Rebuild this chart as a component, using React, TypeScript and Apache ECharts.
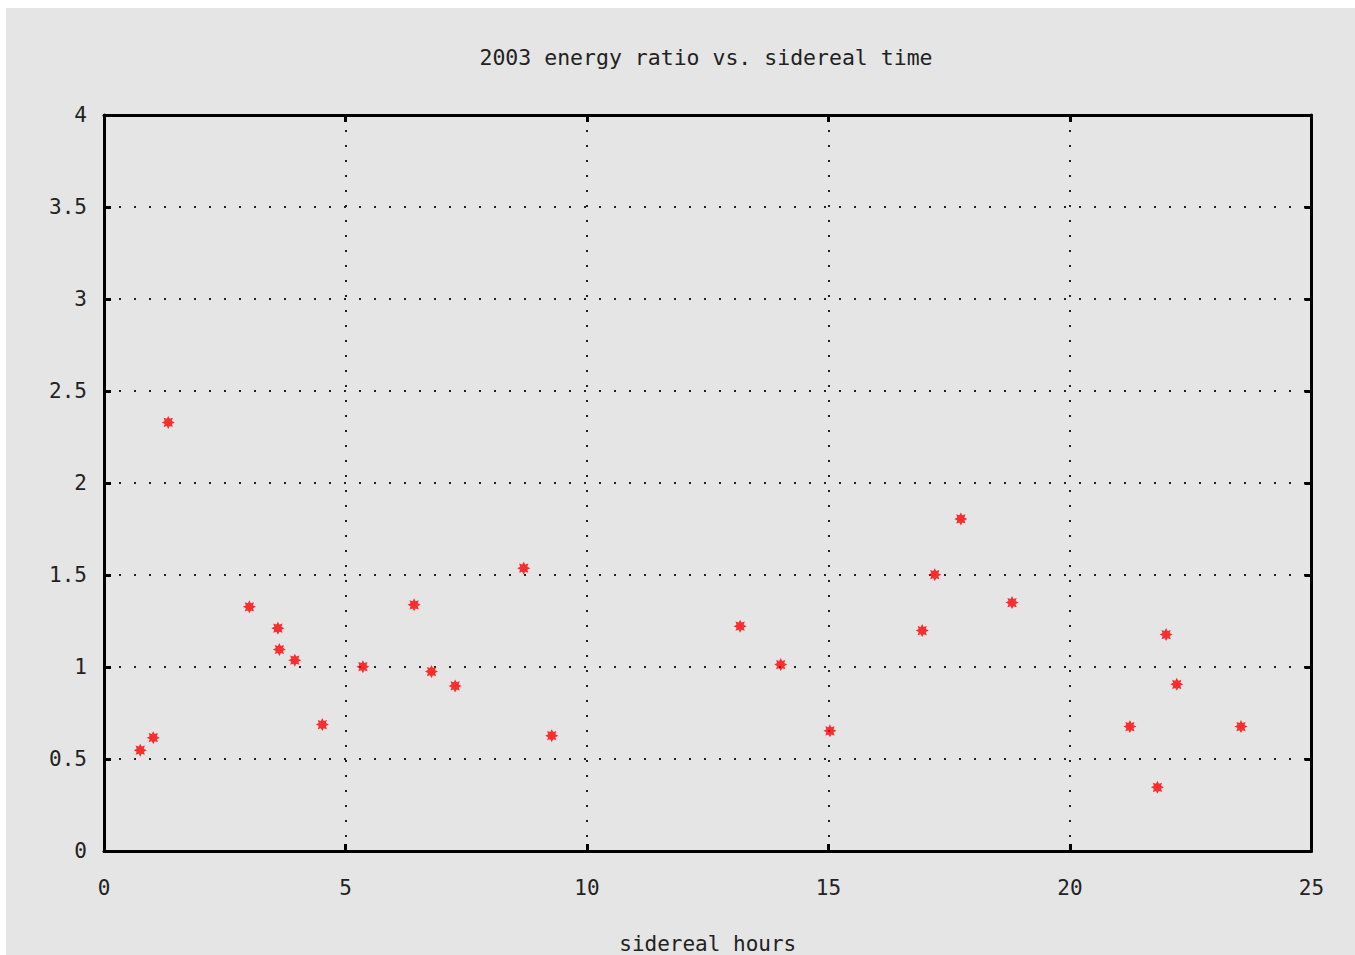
import React, { useEffect, useRef } from "react";
import * as echarts from "echarts";

// Sidereal hour of each run and its measured energy ratio
const siderealHours: number[] = [
  0.75, 1.02, 1.33, 3.01, 3.6, 3.63, 3.95, 4.52, 5.36, 6.42, 6.78, 7.27, 8.69,
  9.27, 13.17, 14.01, 15.03, 16.94, 17.2, 17.74, 18.8, 21.24, 21.81, 21.99,
  22.21, 23.54,
];
const energyRatio: number[] = [
  0.548, 0.616, 2.329, 1.327, 1.211, 1.095, 1.037, 0.687, 1.002, 1.338, 0.975,
  0.897, 1.537, 0.627, 1.222, 1.013, 0.653, 1.198, 1.502, 1.805, 1.35, 0.676,
  0.346, 1.176, 0.906, 0.676,
];

const xTicks = { min: 0, max: 25, interval: 5 };
const yTicks = { min: 0, max: 4, interval: 0.5 };

const titleText = "2003 energy ratio vs. sidereal time";
const xAxisName = "sidereal hours";

const FONT = "'DejaVu Sans Mono', 'Liberation Mono', monospace";
const STAR =
  "path://M10 0 L5.54 2.3 L7.07 7.07 L2.3 5.54 L0 10 L-2.3 5.54 L-7.07 7.07 L-5.54 2.3 L-10 0 L-5.54 -2.3 L-7.07 -7.07 L-2.3 -5.54 L0 -10 L2.3 -5.54 L7.07 -7.07 L5.54 -2.3 Z";

export default function App() {
  const ref = useRef<HTMLDivElement>(null);

  useEffect(() => {
    if (!ref.current) return;
    const chart = echarts.init(ref.current, null, { renderer: "svg" });

    const dotted = {
      show: true,
      lineStyle: { color: "#222", width: 2, type: [2, 13] as number[] },
    };
    const frameLine = { show: true, lineStyle: { color: "#000", width: 3 } };
    const innerTick = {
      show: true,
      inside: true,
      length: 7,
      lineStyle: { color: "#000", width: 3 },
    };
    const labelStyle = { color: "#222", fontFamily: FONT, fontSize: 21 };

    chart.setOption({
      animation: false,
      backgroundColor: "#e5e5e5",
      title: {
        text: titleText,
        left: 695,
        top: 33,
        textAlign: "center",
        textStyle: { ...labelStyle, fontSize: 21.5, fontWeight: "normal" },
      },
      grid: {
        left: 98,
        right: 43.5,
        top: 107,
        bottom: 104,
        containLabel: false,
        outerBoundsMode: "none",
      },
      xAxis: [
        {
          type: "value",
          position: "bottom",
          ...xTicks,
          axisLine: { ...frameLine, onZero: false },
          axisTick: innerTick,
          splitLine: dotted,
          axisLabel: { ...labelStyle, margin: 26 },
          name: xAxisName,
          nameLocation: "middle",
          nameGap: 82,
          nameTextStyle: labelStyle,
        },
        {
          type: "value",
          position: "top",
          ...xTicks,
          axisLine: { ...frameLine, onZero: false },
          axisTick: innerTick,
          splitLine: { show: false },
          axisLabel: { show: false },
        },
      ],
      yAxis: [
        {
          type: "value",
          position: "left",
          ...yTicks,
          axisLine: { ...frameLine, onZero: false },
          axisTick: innerTick,
          splitLine: dotted,
          axisLabel: { ...labelStyle, margin: 17 },
        },
        {
          type: "value",
          position: "right",
          ...yTicks,
          axisLine: { ...frameLine, onZero: false },
          axisTick: innerTick,
          splitLine: { show: false },
          axisLabel: { show: false },
        },
      ],
      series: [
        {
          type: "scatter",
          xAxisIndex: 0,
          yAxisIndex: 0,
          symbol: STAR,
          symbolSize: 13,
          itemStyle: { color: "#ff0000" },
          data: siderealHours.map((h, i) => [h, energyRatio[i]]),
        },
      ],
    });

    return () => chart.dispose();
  }, []);

  return (
    <div
      ref={ref}
      style={{
        position: "absolute",
        left: 6,
        top: 8,
        width: 1349,
        height: 947,
      }}
    />
  );
}
